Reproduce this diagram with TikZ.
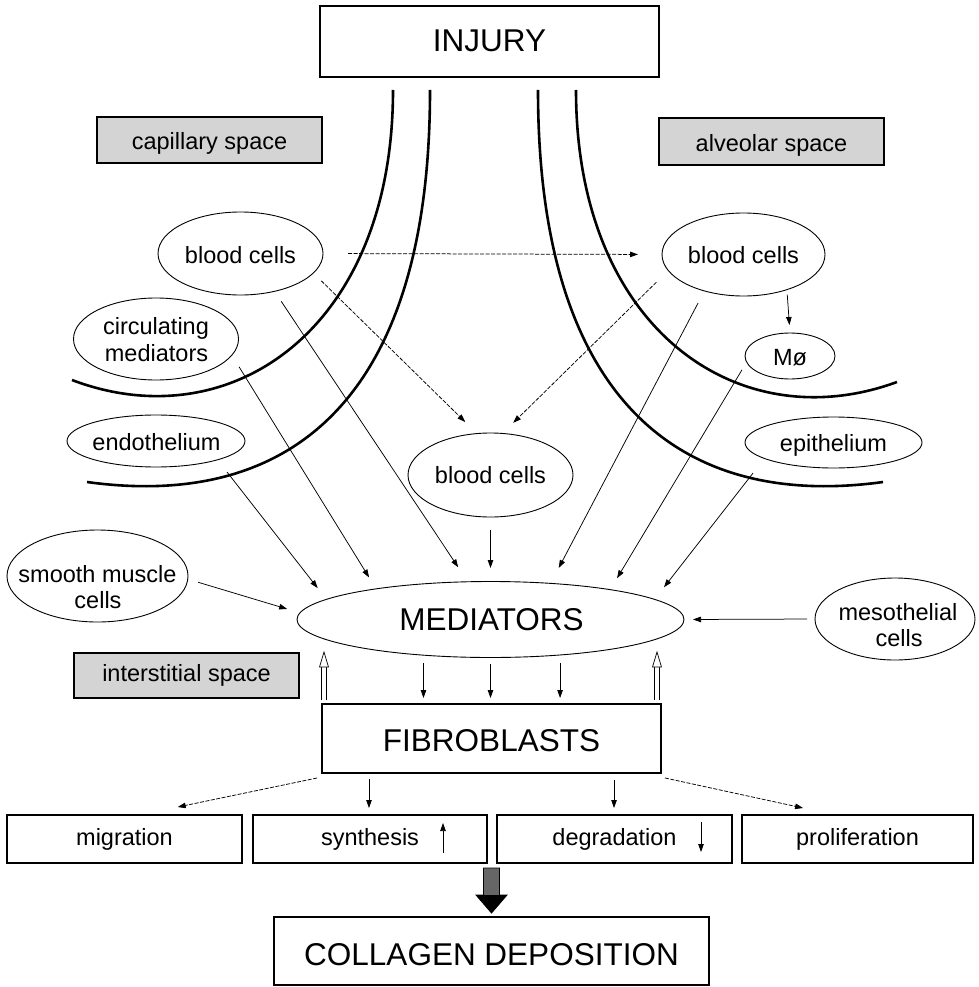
\documentclass[tikz,border=0pt]{standalone}
\usepackage{fontspec}
\setmainfont{Liberation Sans}
\usetikzlibrary{shapes.geometric,arrows.meta,calc}
\begin{document}
\begin{tikzpicture}[x=1pt,y=-1pt,
  ell/.style={draw, ellipse, inner sep=0pt, outer sep=0pt, line width=0.9pt},
  box/.style={draw, rectangle, inner sep=0pt, outer sep=0pt, line width=1.1pt},
  shadebox/.style={box, fill=black!17, line width=1.4pt},
  txt/.style={anchor=base, inner sep=0pt, font=\fontsize{23.5}{26}\selectfont},
  bigtxt/.style={anchor=base, inner sep=0pt, font=\fontsize{31.5}{34}\selectfont},
  arr/.style={line width=0.75pt, -{Triangle[length=8pt,width=5.5pt]}},
  dsh/.style={arr, dash pattern=on 4pt off 1.5pt},
  membrane/.style={line width=2.6pt},
  hollowup/.pic={
    \draw[line width=0.7pt] (-2.5,0) -- (-2.5,-33) (2.5,0) -- (2.5,-33);
    \draw[line width=0.7pt, fill=white, line join=miter] (-4.5,-33) -- (0,-48) -- (4.5,-33) -- cycle;
  }
]
\useasboundingbox (0,0) rectangle (978,987);
\fill[white] (0,0) rectangle (978,987);

% membranes
\draw[membrane] (393,90) .. controls (393,330) and (230,440) .. (72,380);
\draw[membrane] (430,90) .. controls (430,400) and (290,510) .. (87,482);
\draw[membrane] (538,90) .. controls (538,400) and (680,510) .. (883,482);
\draw[membrane] (576,90) .. controls (576,330) and (739,440) .. (897,382);

% boxes
\node[box, minimum width=339pt, minimum height=71pt] (inj) at (489.5,41.5) {};
\node[shadebox, minimum width=225pt, minimum height=46pt] (cap) at (209.5,140) {};
\node[shadebox, minimum width=225pt, minimum height=47pt] (alv) at (771.5,141.5) {};
\node[shadebox, minimum width=225pt, minimum height=45pt] (inter) at (186.5,675.5) {};
\node[box, minimum width=339pt, minimum height=69pt] (fib) at (491.5,738.5) {};
\node[box, minimum width=235pt, minimum height=48pt] (mig) at (124.5,839) {};
\node[box, minimum width=234pt, minimum height=48pt] (syn) at (370,839) {};
\node[box, minimum width=235pt, minimum height=48pt] (deg) at (614.5,839) {};
\node[box, minimum width=231pt, minimum height=48pt] (pro) at (857.5,839) {};
\node[box, minimum width=435pt, minimum height=68pt] (col) at (491.5,951) {};

% ellipses
\node[ell, minimum width=165pt, minimum height=83pt] (bcL) at (240.5,253.5) {};
\node[ell, minimum width=163pt, minimum height=83pt] (bcR) at (743.5,254.5) {};
\node[ell, minimum width=165pt, minimum height=82pt] (circ) at (156,339) {};
\node[ell, minimum width=178pt, minimum height=52pt] (endo) at (156,441) {};
\node[ell, minimum width=165pt, minimum height=84pt] (bcC) at (490.5,475) {};
\node[ell, minimum width=90pt, minimum height=46pt] (mo) at (790,356) {};
\node[ell, minimum width=177pt, minimum height=51pt] (epi) at (833.5,442.5) {};
\node[ell, minimum width=181pt, minimum height=92pt] (smc) at (97.5,576) {};
\node[ell, minimum width=387pt, minimum height=76pt] (med) at (490.5,619.5) {};
\node[ell, minimum width=160pt, minimum height=82pt] (meso) at (895,619) {};

% texts
\node[bigtxt] (injt) at (489.5,52) {INJURY};
\node[txt] (capt) at (209.5,150) {capillary space};
\node[txt] (alvt) at (771.5,151.7) {alveolar space};
\node[txt] (intt) at (186.5,681.7) {interstitial space};
\node[txt] (bcLt) at (240.5,263) {blood cells};
\node[txt] (bcRt) at (743.5,263.3) {blood cells};
\node[txt] (circt1) at (156,334.3) {circulating};
\node[txt] (circt2) at (156.5,361.7) {mediators};
\node[txt] (endot) at (156.5,450) {endothelium};
\node[txt] (bcCt) at (490.5,483.3) {blood cells};
\node[txt] (mot) at (790,365) {Mø};
\node[txt] (epit) at (833.5,451.7) {epithelium};
\node[txt] (smct1) at (97.5,582) {smooth muscle};
\node[txt] (smct2) at (98,608) {cells};
\node[bigtxt] (medt) at (491.5,630) {MEDIATORS};
\node[txt] (mesot1) at (898,620) {mesothelial};
\node[txt] (mesot2) at (899,646.7) {cells};
\node[bigtxt] (fibt) at (491.5,751.7) {FIBROBLASTS};
\node[txt] (migt) at (124.5,845) {migration};
\node[txt] (synt) at (370,845) {synthesis};
\node[txt] (degt) at (614.5,845) {degradation};
\node[txt] (prot) at (857.5,845) {proliferation};
\node[bigtxt] (colt) at (491.5,965) {COLLAGEN DEPOSITION};

% arrows into MEDIATORS
\draw[arr, shorten <=13.7pt, shorten >=13.4pt] (circ.-12.9) -- (med.165.8);
\draw[arr, shorten <=15.5pt, shorten >=14.3pt] (endo.-17.0) -- (med.173.0);
\draw[arr, shorten <=12.1pt, shorten >=17.4pt] (bcL.-48.2) -- (med.121.4);
\draw[arr, shorten <=10.8pt, shorten >=13.4pt] (smc.-2.5) -- (med.178.0);
\draw[arr, shorten <=13pt, shorten >=13.5pt] (bcC.south) -- (med.north);
\draw[arr, shorten <=13.7pt, shorten >=17.4pt] (bcR.223.0) -- (med.31.3);
\draw[arr, shorten <=9pt, shorten >=13.3pt] (mo.188.3) -- (med.14.4);
\draw[arr, shorten <=18.5pt, shorten >=15.3pt] (epi.193.0) -- (med.7.1);
\draw[arr, shorten <=8pt, shorten >=9pt] (meso.west) -- (med.east);
\draw[arr, shorten <=5pt, shorten >=8pt] (bcR.-39.8) -- (mo.north);

% dashed blood cell migration
\draw[dsh, shorten <=25pt, shorten >=24pt] (bcL.east) -- (bcR.west);
\draw[dsh, shorten <=11.1pt, shorten >=16.5pt] (bcL.-15.2) -- (bcC.108.3);
\draw[dsh, shorten <=16.7pt, shorten >=15.1pt] (bcR.192.8) -- (bcC.74.3);

% MEDIATORS -> FIBROBLASTS
\draw[arr, shorten <=8pt, shorten >=6pt] (med.-152.2) -- (med.-152.2 |- fib.north);
\draw[arr, shorten <=6pt, shorten >=6pt] (med.south) -- (med.south |- fib.north);
\draw[arr, shorten <=8pt, shorten >=6pt] (med.-27.8) -- (med.-27.8 |- fib.north);

% hollow arrows FIBROBLASTS -> MEDIATORS
\pic at ($(fib.north west)+(2,-4)$) {hollowup};
\pic at ($(fib.north east)+(-4,-4)$) {hollowup};

% FIBROBLASTS -> activities
\coordinate (fm) at ($(fib.south west)!0.056!(fib.south east)$);
\coordinate (mm) at ($(mig.north west)!0.564!(mig.north east)$);
\draw[dsh, shorten <=24.5pt, shorten >=39pt] (fm) -- (mm);
\coordinate (fp) at ($(fib.south west)!0.944!(fib.south east)$);
\coordinate (pm) at ($(pro.north west)!0.4035!(pro.north east)$);
\draw[dsh, shorten <=23.5pt, shorten >=32.9pt] (fp) -- (pm);
\coordinate (fs) at ($(fib.south west)!0.1386!(fib.south east)$);
\draw[arr, shorten <=6pt, shorten >=7pt] (fs) -- (fs |- syn.north);
\coordinate (fd) at ($(fib.south west)!0.8614!(fib.south east)$);
\draw[arr, shorten <=7pt, shorten >=7pt] (fd) -- (fd |- deg.north);

% small indicator arrows
\draw[arr] (443,853) -- (443,823);
\draw[arr] (701,822) -- (701,852);

% big arrow to COLLAGEN DEPOSITION
\filldraw[fill=black!60, draw=black, line width=0.8pt]
  (483.5,868) -- (499.5,868) -- (499.5,895) -- (507,895) -- (491.5,913)
  -- (476,895) -- (483.5,895) -- cycle;
\fill[black] (476,895) -- (507,895) -- (491.5,913) -- cycle;
\end{tikzpicture}
\end{document}
